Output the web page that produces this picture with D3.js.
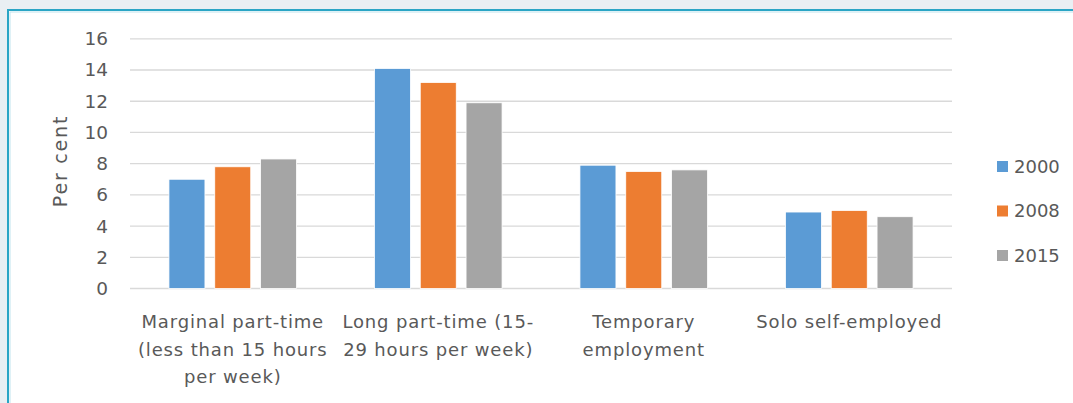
<!DOCTYPE html>
<html>
<head>
<meta charset="utf-8">
<script src="https://cdn.jsdelivr.net/npm/d3@7"></script>
<style>
  body { margin: 0; background: #e9eff3; }
  svg { display: block; }
  text { font-family: "DejaVu Sans", sans-serif; fill: #595959; }
</style>
</head>
<body>
<div id="chart"></div>
<script>
// data
var categories = ["Marginal part-time", "Long part-time", "Temporary employment", "Solo self-employed"];
var categoryLines = [
  ["Marginal part-time", "(less than 15 hours", "per week)"],
  ["Long part-time (15-", "29 hours per week)"],
  ["Temporary", "employment"],
  ["Solo self-employed"]
];
var series = ["2000", "2008", "2015"];
var values2000 = [7.0, 14.1, 7.9, 4.9];
var values2008 = [7.8, 13.2, 7.5, 5.0];
var values2015 = [8.3, 11.9, 7.6, 4.6];
var yTicks = [0, 2, 4, 6, 8, 10, 12, 14, 16];
var colors = ["#5b9bd5", "#ed7d31", "#a5a5a5"];

var seriesValues = [values2000, values2008, values2015];

var svg = d3.select("#chart").append("svg")
  .attr("width", 1073)
  .attr("height", 403);

// white panel with teal border
svg.append("rect")
  .attr("x", 8).attr("y", 10)
  .attr("width", 1100).attr("height", 420)
  .attr("fill", "#ffffff")
  .attr("stroke", "#2aa5c5")
  .attr("stroke-width", 2);
svg.append("rect")
  .attr("x", 10).attr("y", 12)
  .attr("width", 1100).attr("height", 420)
  .attr("fill", "none")
  .attr("stroke", "#bfe3ee")
  .attr("stroke-width", 1);

var y = d3.scaleLinear().domain([0, 16]).range([288.5, 38.8]);
var x0 = d3.scaleBand().domain(categories).range([130, 952]);
var x1 = d3.scaleBand().domain(series).range([0, x0.bandwidth()])
  .paddingInner(0.214).paddingOuter(0.85);

// gridlines
svg.append("g").selectAll("line")
  .data(yTicks)
  .enter()
  .append("line")
    .attr("x1", 130).attr("x2", 952)
    .attr("y1", function (d) { return y(d); })
    .attr("y2", function (d) { return y(d); })
    .attr("stroke", "#d9d9d9")
    .attr("stroke-width", 1.3);

// y tick labels
svg.append("g").selectAll("text")
  .data(yTicks)
  .enter()
  .append("text")
    .attr("x", 108)
    .attr("y", function (d) { return y(d); })
    .attr("dy", "0.35em")
    .attr("text-anchor", "end")
    .style("font-size", "18.5px")
    .text(function (d) { return d; });

// y axis title
svg.append("text")
  .attr("transform", "translate(67,161) rotate(-90)")
  .attr("text-anchor", "middle")
  .style("font-size", "19px")
  .style("letter-spacing", "1.8px")
  .text("Per cent");

// bars
var groups = svg.append("g").selectAll("g")
  .data(categories)
  .enter()
  .append("g")
    .attr("transform", function (d) { return "translate(" + x0(d) + ",0)"; });

groups.selectAll("rect")
  .data(function (d, i) {
    return series.map(function (s, j) { return { s: s, v: seriesValues[j][i], c: colors[j] }; });
  })
  .enter()
  .append("rect")
    .attr("x", function (d) { return x1(d.s); })
    .attr("width", x1.bandwidth())
    .attr("y", function (d) { return y(d.v); })
    .attr("height", function (d) { return y(0) - y(d.v); })
    .attr("fill", function (d) { return d.c; })
    .attr("stroke", "#ffffff")
    .attr("stroke-width", 0.8);

// category labels
var labels = svg.append("g").selectAll("text")
  .data(categories)
  .enter()
  .append("text")
    .attr("text-anchor", "middle")
    .style("font-size", "18px")
    .style("letter-spacing", "0.85px");

labels.selectAll("tspan")
  .data(function (d, i) {
    return categoryLines[i].map(function (l) { return { line: l, cat: d }; });
  })
  .enter()
  .append("tspan")
    .attr("x", function (d) { return x0(d.cat) + x0.bandwidth() / 2; })
    .attr("y", function (d, i) { return 328 + i * 27.5; })
    .text(function (d) { return d.line; });

// legend
var legend = svg.append("g").selectAll("g")
  .data(series)
  .enter()
  .append("g")
    .attr("transform", function (d, i) { return "translate(997," + (166.5 + i * 44.5) + ")"; });

legend.append("rect")
  .attr("x", 0).attr("y", -5.5)
  .attr("width", 11).attr("height", 11)
  .attr("fill", function (d, i) { return colors[i]; });

legend.append("text")
  .attr("x", 17)
  .attr("dy", "0.35em")
  .style("font-size", "18px")
  .text(function (d) { return d; });
</script>
</body>
</html>
